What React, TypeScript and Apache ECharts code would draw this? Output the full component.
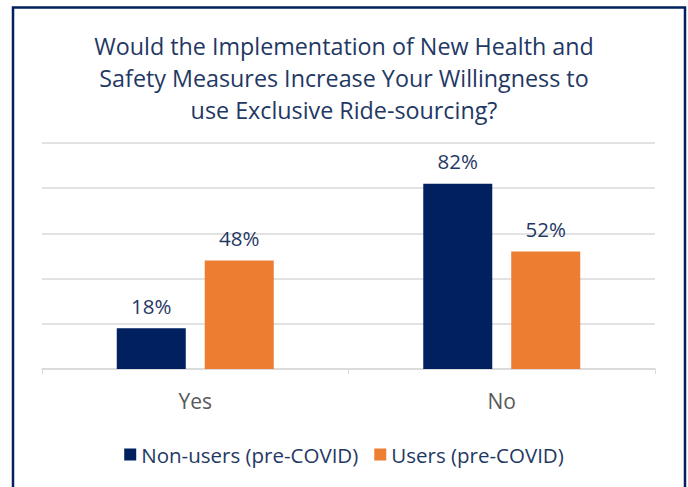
import React, { useEffect, useRef } from "react";
import * as echarts from "echarts";

const categories = ["Yes", "No"];
const nonUsers = [18, 82];
const users = [48, 52];
const seriesNames = ["Non-users (pre-COVID)", "Users (pre-COVID)"];
const titleText = "Would the Implementation of New Health and\nSafety Measures Increase Your Willingness to\nuse Exclusive Ride-sourcing?";

export default function App() {
  const ref = useRef<HTMLDivElement>(null);
  useEffect(() => {
    document.body.style.margin = "0";
    const chart = echarts.init(ref.current!, null, { renderer: "svg" });
    const font = "'Open Sans', 'Noto Sans', sans-serif";
    const navy = "#002060";
    const orange = "#ED7D31";
    const labelStyle = {
      show: true,
      position: "top" as const,
      distance: 12,
      formatter: "{c}%",
      color: "#1F3864",
      fontSize: 20.5,
      fontFamily: font,
    };
    chart.setOption({
      animation: false,
      backgroundColor: "#ffffff",
      title: {
        text: titleText,
        left: "center",
        top: 25,
        textStyle: {
          color: "#1F3864",
          fontSize: 23.3,
          fontWeight: "normal",
          fontFamily: font,
          lineHeight: 32,
        },
      },
      graphic: [
        {
          type: "rect",
          shape: { x: 13, y: 7.5, width: 672, height: 500 },
          style: { fill: "none", stroke: "#002060", lineWidth: 2.5 },
          silent: true,
        },
      ],
      legend: {
        bottom: 17,
        left: "center",
        itemWidth: 12,
        itemHeight: 12,
        itemGap: 16,
        icon: "rect",
        textStyle: { color: "#1F3864", fontSize: 20.5, fontFamily: font },
        data: seriesNames,
      },
      grid: { left: 42, right: 33, top: 143, bottom: 118 },
      xAxis: {
        type: "category",
        data: categories,
        axisLine: { lineStyle: { color: "#D9D9D9", width: 1.5 } },
        axisTick: { show: true, length: 5, lineStyle: { color: "#D9D9D9" } },
        axisLabel: { color: "#595959", fontSize: 21, fontFamily: font, margin: 21 },
      },
      yAxis: {
        type: "value",
        min: 0,
        max: 100,
        interval: 20,
        axisLabel: { show: false },
        axisLine: { show: false },
        axisTick: { show: false },
        splitLine: { lineStyle: { color: "#D9D9D9", width: 1.5 } },
      },
      series: [
        {
          name: seriesNames[0],
          type: "bar",
          data: nonUsers,
          barWidth: 69,
          barGap: "27.5%",
          itemStyle: { color: navy },
          label: labelStyle,
        },
        {
          name: seriesNames[1],
          type: "bar",
          data: users,
          barWidth: 69,
          barGap: "27.5%",
          itemStyle: { color: orange },
          label: labelStyle,
        },
      ],
    });
    return () => chart.dispose();
  }, []);
  return <div ref={ref} style={{ width: 688, height: 487, position: "absolute", left: 0, top: 0 }} />;
}
